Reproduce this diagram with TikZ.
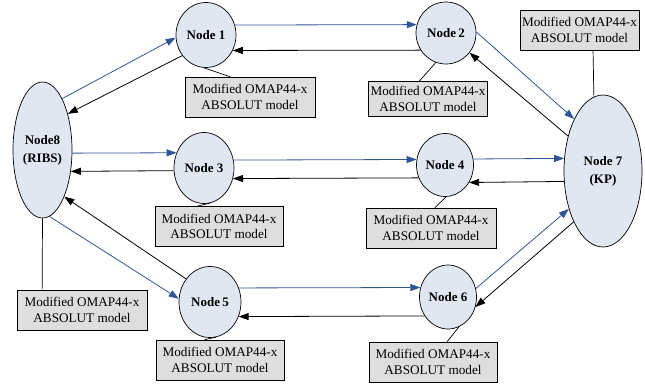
\documentclass[tikz,border=0pt]{standalone}
\usepackage{fontspec}
\setmainfont{Liberation Serif}
\usetikzlibrary{arrows.meta,calc,shapes.geometric}
\definecolor{nodefill}{RGB}{225,231,241}
\definecolor{boxfill}{RGB}{222,222,222}
\definecolor{linkblue}{RGB}{47,85,151}

\begin{document}
\begin{tikzpicture}[x=1pt,y=-1pt,
  peer/.style={ellipse,draw=black,line width=0.7pt,fill=nodefill,inner sep=0pt,
    align=center,font=\fontsize{13}{18}\selectfont\bfseries},
  model/.style={rectangle,draw=black,line width=0.7pt,fill=boxfill,
    minimum width=128pt,minimum height=40pt,inner sep=0pt,align=center,
    font=\fontsize{13.2}{15.5}\selectfont},
  fwd/.style={draw=linkblue,line width=0.8pt,-{Triangle[length=10pt,width=7pt]}},
  back/.style={draw=black,line width=0.8pt,-{Triangle[length=10pt,width=7pt]}},
  tie/.style={draw=black,line width=0.7pt}]

\useasboundingbox (0,0) rectangle (645,383);

% routing peers
\node[peer,minimum width=59pt,minimum height=136pt] (n8) at (42.5,150) {Node8\\(RIBS)};
\node[peer,minimum width=78pt,minimum height=152pt] (n7) at (603,171) {Node 7\\(KP)};
\node[peer,minimum width=60pt,minimum height=65pt] (n1) at (206,35) {Node 1};
\node[peer,minimum width=60pt,minimum height=62pt] (n2) at (446,33) {Node\,2};
\node[peer,minimum width=60pt,minimum height=71pt] (n3) at (204,168) {Node 3};
\node[peer,minimum width=57pt,minimum height=63pt] (n4) at (445,165) {Node 4};
\node[peer,minimum width=62pt,minimum height=71pt] (n5) at (210,302) {Node\,5};
\node[peer,minimum width=57pt,minimum height=64pt] (n6) at (448,297) {Node 6};

% model boxes
\node[model,minimum width=130pt] (m1) at (250,97) {Modified OMAP44-x\\ABSOLUT model};
\node[model,minimum width=119pt,minimum height=35pt] (m2) at (428,99) {Modified OMAP44-x\\ABSOLUT model};
\node[model,minimum width=119pt] (m7) at (579.5,30) {Modified OMAP44-x\\ABSOLUT model};
\node[model] (m3) at (219,226.5) {Modified OMAP44-x\\ABSOLUT model};
\node[model,minimum width=130pt] (m4) at (431,228) {Modified OMAP44-x\\ABSOLUT model};
\node[model,minimum width=130pt] (m8) at (82,310) {Modified OMAP44-x\\ABSOLUT model};
\node[model] (m5) at (220,360) {Modified OMAP44-x\\ABSOLUT model};
\node[model] (m6) at (433,362) {Modified OMAP44-x\\ABSOLUT model};

% model attachments
\draw[tie] (n1.266) -- ($(m1.north west)!0.346!(m1.north east)$);
\draw[tie] (n2.251.6) -- ($(m2.north west)!0.427!(m2.north east)$);
\draw[tie] ($(m7.south west)!0.613!(m7.south east)$) -- (n7.97.7);
\draw[tie] (n3.280) -- ($(m3.north west)!0.33!(m3.north east)$);
\draw[tie] (n4.272) -- ($(m4.north west)!0.53!(m4.north east)$);
\draw[tie] (n5.280) -- ($(m5.north west)!0.38!(m5.north east)$);
\draw[tie] (n6.290) -- ($(m6.north west)!0.61!(m6.north east)$);
\draw[tie] (n8.south) -- ($(m8.north west)!0.195!(m8.north east)$);

% links
\draw[fwd]  (n8.69.8)  -- (n1.185.7);
\draw[back] (n1.221.3) -- (n8.55.4);
\draw[fwd]  (n1.19.3)  -- (n2.164.6);
\draw[back] (n2.214.1) -- (n1.330.6);
\draw[fwd]  (n2.2)     -- (n7.119.5);
\draw[back] (n7.135.2) -- (n2.320.6);
\draw[fwd]  (n8.354.2) -- (n3.151.1);
\draw[back] (n3.185.7) -- (n8.323.2);
\draw[fwd]  (n3.15.3)  -- (n4.169.9);
\draw[back] (n4.206.6) -- (n3.340.9);
\draw[fwd]  (n4.12.1)  -- (n7.162.7);
\draw[back] (n7.195.9) -- (n4.324.7);
\draw[back] (n5.136.5) -- (n8.295.8);
\draw[fwd]  (n8.276.4) -- (n5.174.6);
\draw[fwd]  (n5.26.2)  -- (n6.161.8);
\draw[back] (n6.219.7) -- (n5.333.8);
\draw[fwd]  (n6.17.9)  -- (n7.228.3);
\draw[back] (n7.240.4) -- (n6.340);
\end{tikzpicture}
\end{document}
